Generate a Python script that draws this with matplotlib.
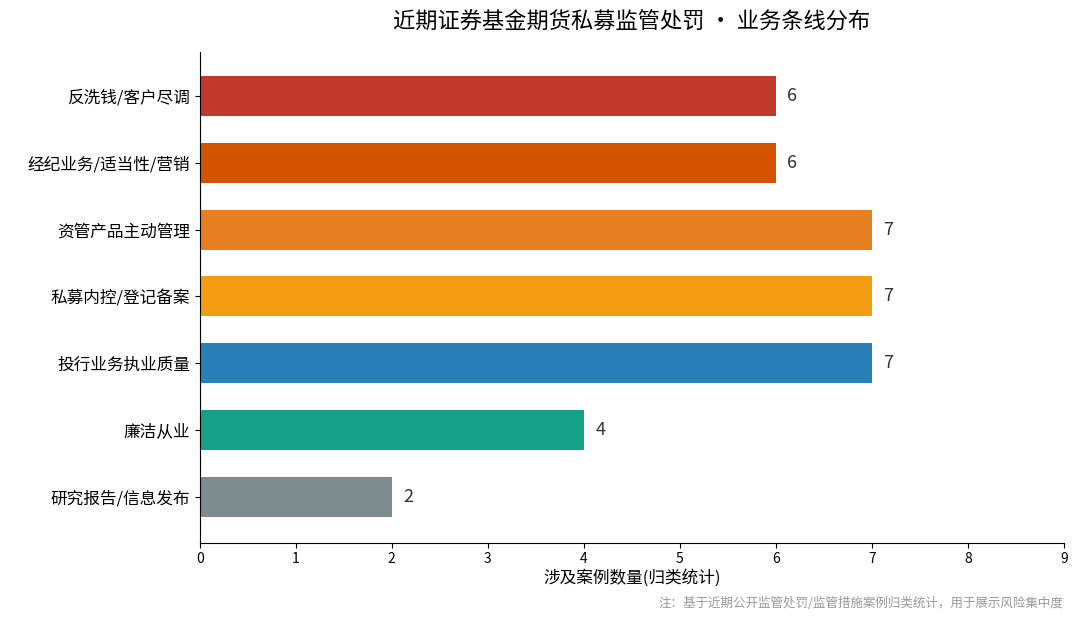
import matplotlib
matplotlib.use('Agg')
import matplotlib.pyplot as plt

plt.rcParams['font.family'] = ['Noto Sans CJK SC', 'DejaVu Sans']

# 数据（从上到下）
categories = ['反洗钱/客户尽调', '经纪业务/适当性/营销', '资管产品主动管理',
              '私募内控/登记备案', '投行业务执业质量', '廉洁从业', '研究报告/信息发布']
counts = [6, 6, 7, 7, 7, 4, 2]
colors = ['#C0392B', '#D35400', '#E67E22', '#F39C12', '#2980B9', '#16A085', '#7F8C8D']

fig = plt.figure(figsize=(10.8, 6.21), dpi=100)
ax = fig.add_axes([0.185, 0.126, 0.8, 0.79])

n = len(categories)
ys = list(range(n - 1, -1, -1))
ax.barh(ys, counts, height=0.6, color=colors)
for y, v in zip(ys, counts):
    ax.text(v + 0.12, y, str(v), va='center', ha='left', fontsize=13, color='#333333')

ax.set_yticks(ys)
ax.set_yticklabels(categories, fontsize=12)
ax.set_xlim(0, 9)
ax.set_xticks(range(10))
ax.set_ylim(-0.69, n - 1 + 0.66)
ax.tick_params(axis='x', labelsize=10)
ax.set_xlabel('涉及案例数量(归类统计)', fontsize=12, labelpad=2)
ax.spines['top'].set_visible(False)
ax.spines['right'].set_visible(False)

fig.text(0.585, 0.965, '近期证券基金期货私募监管处罚 · 业务条线分布', ha='center', va='center',
         fontsize=16)
fig.text(0.985, 0.028, '注：基于近期公开监管处罚/监管措施案例归类统计，用于展示风险集中度',
         ha='right', va='center', fontsize=9, color='#999999')

fig.savefig('out.png', dpi=100)
